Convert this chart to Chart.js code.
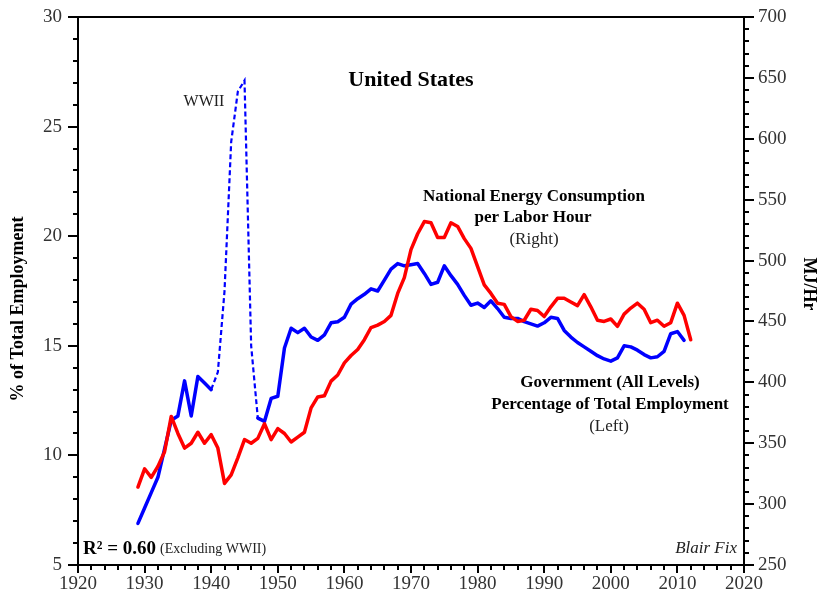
<!DOCTYPE html>
<html><head><meta charset="utf-8">
<script src="https://cdn.jsdelivr.net/npm/chart.js@4"></script>
<style>html,body{margin:0;padding:0;background:#fff}</style>
</head><body>
<canvas id="c" width="819" height="598"></canvas>
<script>
// ---- data ----
const energyYears = [1929,1930,1931,1932,1933,1934,1935,1936,1937,1938,1939,1940,1941,1942,1943,1944,1945,1946,1947,1948,1949,
  1950,1951,1952,1953,1954,1955,1956,1957,1958,1959,1960,1961,1962,1963,1964,1965,1966,1967,1968,1969,
  1970,1971,1972,1973,1974,1975,1976,1977,1978,1979,1980,1981,1982,1983,1984,1985,1986,1987,1988,1989,
  1990,1991,1992,1993,1994,1995,1996,1997,1998,1999,2000,2001,2002,2003,2004,2005,2006,2007,2008,2009,
  2010,2011,2012];
const energyValues = [314,329,322,331,343,372,358,346,350,359,350,357,346,317,324,338,353,350,354,366,353,
  362,358,351,355,359,379,388,389,401,406,416,422,427,435,445,447,450,455,473,486,
  509,522,532,531,519,519,531,528,518,510,495,480,473,465,464,454,450,451,460,459,
  454,462,469,469,466,463,472,462,451,450,452,446,456,461,465,460,449,451,446,449,
  465,455,435];
const govYears = [1929,1930,1931,1932,1933,1934,1935,1936,1937,1938,1939,1940,1941,1942,1943,1944,1945,1946,1947,1948,1949,
  1950,1951,1952,1953,1954,1955,1956,1957,1958,1959,1960,1961,1962,1963,1964,1965,1966,1967,1968,1969,
  1970,1971,1972,1973,1974,1975,1976,1977,1978,1979,1980,1981,1982,1983,1984,1985,1986,1987,1988,1989,
  1990,1991,1992,1993,1994,1995,1996,1997,1998,1999,2000,2001,2002,2003,2004,2005,2006,2007,2008,2009,
  2010,2011];
const govValues = [6.9,7.6,8.3,9.0,10.3,11.6,11.8,13.4,11.8,13.6,13.3,13.0,null,null,null,null,null,null,11.7,11.55,12.6,
  12.7,14.9,15.8,15.6,15.8,15.4,15.25,15.5,16.05,16.1,16.3,16.9,17.15,17.35,17.6,17.5,18.0,18.5,18.75,18.65,
  18.7,18.75,18.3,17.8,17.9,18.65,18.2,17.8,17.3,16.85,16.95,16.75,17.05,16.7,16.3,16.25,16.25,16.1,16.0,15.9,
  16.05,16.3,16.25,15.7,15.4,15.15,14.95,14.75,14.55,14.4,14.3,14.45,15.0,14.95,14.8,14.6,14.45,14.5,14.75,15.55,
  15.65,15.25];
const wwiiYears = [1940,1941,1942,1943,1944,1945,1946,1947];
const wwiiValues = [13.0,13.8,17.5,24.3,26.6,27.1,15.0,11.7];
const xTicks = [1920,1930,1940,1950,1960,1970,1980,1990,2000,2010,2020];
const leftTicks = [5,10,15,20,25,30];
const rightTicks = [250,300,350,400,450,500,550,600,650,700];

// ---- styling ----
const SERIF = "'Liberation Serif','Times New Roman',serif";
const tickFont = {family: SERIF, size: 19};
const tickColor = '#333';

const annot = {
  id: 'annot',
  afterDraw(chart) {
    const ctx = chart.ctx;
    const {left, right, top, bottom} = chart.chartArea;
    const sx = chart.scales.x, sy = chart.scales.y, sy2 = chart.scales.y2;
    ctx.save();
    ctx.strokeStyle = '#000';
    ctx.lineWidth = 2;
    ctx.beginPath();
    ctx.moveTo(left - 1, top); ctx.lineTo(right + 1, top);
    ctx.stroke();
    ctx.beginPath();
    for (let v = 1920; v <= 2020; v += 2) {
      const px = Math.round(sx.getPixelForValue(v));
      const len = v % 10 === 0 ? 8 : 5;
      ctx.moveTo(px, bottom); ctx.lineTo(px, bottom + len);
    }
    for (let v = 5; v <= 30; v += 1) {
      const py = Math.round(sy.getPixelForValue(v));
      const len = v % 5 === 0 ? 10 : 5;
      ctx.moveTo(left, py); ctx.lineTo(left - len, py);
    }
    for (let v = 250; v <= 700; v += 10) {
      const py = Math.round(sy2.getPixelForValue(v));
      const len = v % 50 === 0 ? 10 : 5;
      ctx.moveTo(right, py); ctx.lineTo(right + len, py);
    }
    ctx.stroke();

    ctx.fillStyle = '#000';
    ctx.textBaseline = 'middle';
    ctx.textAlign = 'center';
    ctx.font = 'bold 22px ' + SERIF;
    ctx.fillText('United States', 411, 80);
    ctx.font = '16px ' + SERIF;
    ctx.fillStyle = '#222';
    ctx.fillText('WWII', 204, 102);
    ctx.fillStyle = '#000';
    ctx.font = 'bold 17px ' + SERIF;
    ctx.fillText('National Energy Consumption', 534, 197);
    ctx.fillText('per Labor Hour', 533, 218);
    ctx.font = '17px ' + SERIF;
    ctx.fillStyle = '#222';
    ctx.fillText('(Right)', 534, 240);
    ctx.fillStyle = '#000';
    ctx.font = 'bold 17px ' + SERIF;
    ctx.fillText('Government (All Levels)', 610, 383);
    ctx.fillText('Percentage of Total Employment', 610, 405);
    ctx.font = '17px ' + SERIF;
    ctx.fillStyle = '#222';
    ctx.fillText('(Left)', 609, 427);

    ctx.fillStyle = '#000';
    ctx.textAlign = 'left';
    ctx.font = 'bold 19px ' + SERIF;
    const r2 = 'R\u00B2 = 0.60';
    ctx.fillText(r2, 83, 549);
    const w = ctx.measureText(r2).width;
    ctx.font = '14px ' + SERIF;
    ctx.fillStyle = '#222';
    ctx.fillText('(Excluding WWII)', 83 + w + 4, 549);
    ctx.textAlign = 'right';
    ctx.font = 'italic 17px ' + SERIF;
    ctx.fillText('Blair Fix', 737, 549);

    ctx.fillStyle = '#000';
    ctx.font = 'bold 18px ' + SERIF;
    ctx.textAlign = 'center';
    ctx.save();
    ctx.translate(18, 309);
    ctx.rotate(-Math.PI / 2);
    ctx.fillText('% of Total Employment', 0, 0);
    ctx.restore();
    ctx.save();
    ctx.translate(809, 284);
    ctx.rotate(Math.PI / 2);
    ctx.fillText('MJ/Hr', 0, 0);
    ctx.restore();
    ctx.restore();
  }
};

const toPts = (xs, ys) => xs.map((x, i) => ({x: x, y: ys[i]}));
const fixY = w => s => { s.width = w; s.paddingTop = 0; s.paddingBottom = 0; };

new Chart(document.getElementById('c').getContext('2d'), {
  type: 'line',
  data: {
    datasets: [
      {label: 'Energy per labor hour', data: toPts(energyYears, energyValues), yAxisID: 'y2',
       borderColor: '#ff0000', borderWidth: 3.5, pointRadius: 0, tension: 0, fill: false,
       borderJoinStyle: 'round', borderCapStyle: 'round', order: 0},
      {label: 'Government employment', data: toPts(govYears, govValues), yAxisID: 'y',
       borderColor: '#0000ff', borderWidth: 3.5, pointRadius: 0, tension: 0, fill: false, spanGaps: false,
       borderJoinStyle: 'round', borderCapStyle: 'round', order: 1},
      {label: 'WWII', data: toPts(wwiiYears, wwiiValues), yAxisID: 'y',
       borderColor: '#0000ff', borderWidth: 2.2, borderDash: [5, 3], pointRadius: 0, tension: 0, fill: false, order: 2}
    ]
  },
  options: {
    responsive: false, animation: false, devicePixelRatio: 1,
    layout: {padding: {top: 17, left: 0, right: 0, bottom: 0}},
    plugins: {legend: {display: false}, tooltip: {enabled: false}},
    scales: {
      x: {type: 'linear', min: 1920, max: 2020,
          grid: {display: false, drawTicks: false},
          border: {display: true, color: '#000', width: 2},
          ticks: {font: tickFont, color: tickColor, padding: 8, autoSkip: false, maxRotation: 0,
                  callback: v => String(v)},
          afterBuildTicks: s => { s.ticks = xTicks.map(v => ({value: v})); },
          afterFit: s => { s.height = 33; s.paddingLeft = 0; s.paddingRight = 0; }},
      y: {type: 'linear', position: 'left', min: 5, max: 30,
          grid: {display: false, drawTicks: false},
          border: {display: true, color: '#000', width: 2},
          ticks: {font: tickFont, color: tickColor, padding: 16, callback: v => String(v)},
          afterBuildTicks: s => { s.ticks = leftTicks.map(v => ({value: v})); },
          afterFit: fixY(78)},
      y2: {type: 'linear', position: 'right', min: 250, max: 700,
          grid: {display: false, drawTicks: false},
          border: {display: true, color: '#000', width: 2},
          ticks: {font: tickFont, color: tickColor, padding: 14, callback: v => String(v)},
          afterBuildTicks: s => { s.ticks = rightTicks.map(v => ({value: v})); },
          afterFit: fixY(75)}
    }
  },
  plugins: [annot]
});
</script>
</body></html>
